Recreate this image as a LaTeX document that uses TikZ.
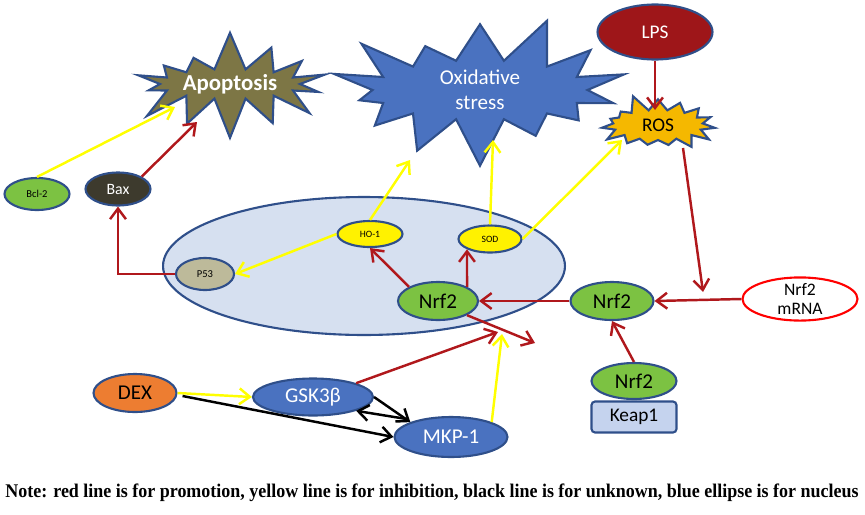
\documentclass[tikz,border=0pt]{standalone}
\usepackage{fontspec}
\setmainfont{Carlito}
\newfontfamily\notefont[FakeStretch=0.93]{Liberation Serif}
\usetikzlibrary{calc,arrows.meta,shapes.geometric,shapes.symbols}
\definecolor{ovalline}{HTML}{2F4F8A}
\definecolor{promo}{HTML}{B0181C}
\definecolor{inhib}{HTML}{FFFF00}
\definecolor{leafgreen}{HTML}{7CC242}
\definecolor{nucfill}{HTML}{D6E0F0}
\definecolor{stressblue}{HTML}{4A72C0}
\definecolor{apopolive}{HTML}{7D7645}
\definecolor{rosgold}{HTML}{F5B800}
\definecolor{dexorange}{HTML}{ED7D31}
\definecolor{keapblue}{HTML}{C5D3EE}
\tikzset{
  oval/.style={ellipse, draw=ovalline, line width=1.2pt, inner sep=0pt},
  burst/.style={starburst, draw=ovalline, line width=1.2pt, inner sep=0pt},
  red arrow/.style={draw=promo, line width=1.4pt, -{Straight Barb[length=6pt,width=9pt]}},
  yellow arrow/.style={draw=inhib, line width=1.4pt, -{Straight Barb[length=6pt,width=9pt]}},
  black arrow/.style={draw=black, line width=1.4pt, -{Straight Barb[length=6pt,width=9pt]}}
}

\begin{document}
\begin{tikzpicture}[x=0.02cm, y=-0.02cm]
	%%%%% START %%%%%
	\useasboundingbox (0,0) rectangle (865,514);
	
	\node[oval, fill=nucfill, minimum width=8.04cm, minimum height=2.76cm] (nucleus) at (364,266) {};
	
	\node[burst, fill=apopolive, starburst points=14, starburst point height=0.8cm, random starburst=7,
		minimum width=4.4cm, minimum height=2.2cm, text=white, font=\bfseries\fontsize{13}{14}\selectfont] (apop) at (230,84) {Apoptosis};
	\node[burst, fill=stressblue, starburst points=14, starburst point height=1.0cm, random starburst=21,
		minimum width=6.3cm, minimum height=3.2cm, text=white, align=center, font=\fontsize{12}{14}\selectfont] (oxid) at (480,90) {Oxidative\\stress};
	\node[burst, fill=rosgold, starburst points=15, starburst point height=0.35cm, random starburst=5,
		minimum width=2.5cm, minimum height=1.3cm, font=\fontsize{11}{12}\selectfont] (ros) at (658,125) {ROS};
	
	\node[oval, fill=promo!90!black, minimum width=2.3cm, minimum height=1.1cm, text=white, font=\fontsize{11}{12}\selectfont] (lps) at (655,32) {LPS};
	\node[oval, fill=leafgreen, minimum width=1.3cm, minimum height=0.64cm, font=\fontsize{6}{7}\selectfont] (bcl) at (37,194) {Bcl-2};
	\node[oval, fill=black!75!olive, minimum width=1.3cm, minimum height=0.66cm, text=white, font=\fontsize{9}{10}\selectfont] (bax) at (118,189) {Bax};
	
	\node[oval, fill=yellow, minimum width=1.3cm, minimum height=0.52cm, font=\fontsize{5.5}{6}\selectfont] (ho) at (370,234) {HO-1};
	\node[oval, fill=yellow, minimum width=1.26cm, minimum height=0.54cm, font=\fontsize{5.5}{6}\selectfont] (sod) at (490,239) {SOD};
	\node[oval, fill=olive!30!gray!60, minimum width=1.16cm, minimum height=0.64cm, font=\fontsize{6}{7}\selectfont] (p53) at (205,274) {P53};
	\node[oval, fill=leafgreen, minimum width=1.6cm, minimum height=0.76cm, font=\fontsize{12}{13}\selectfont] (nrfin) at (438,301) {Nrf2};
	\node[oval, fill=leafgreen, minimum width=1.66cm, minimum height=0.76cm, font=\fontsize{12}{13}\selectfont] (nrfmid) at (612,301) {Nrf2};
	\node[ellipse, draw=red, line width=1.2pt, fill=white, minimum width=2.3cm, minimum height=0.84cm, inner sep=0pt, align=center,
		font=\fontsize{10}{10.5}\selectfont] (mrna) at (800,299) {Nrf2\\mRNA};
	\node[oval, fill=leafgreen, minimum width=1.7cm, minimum height=0.72cm, font=\fontsize{12}{13}\selectfont] (nrfbot) at (634,381) {Nrf2};
	\node[draw=ovalline, line width=1.2pt, rounded corners=2pt, fill=keapblue, minimum width=1.7cm, minimum height=0.62cm,
		font=\fontsize{11}{12}\selectfont] (keap) at (634,417) {Keap1};
	
	\node[oval, fill=dexorange, minimum width=1.66cm, minimum height=0.76cm, font=\fontsize{12}{13}\selectfont] (dex) at (135,393) {DEX};
	\node[oval, fill=stressblue, minimum width=2.4cm, minimum height=0.74cm, text=white, font=\fontsize{12}{13}\selectfont] (gsk) at (313,397) {GSK3β};
	\node[oval, fill=stressblue, minimum width=2.26cm, minimum height=0.8cm, text=white, font=\fontsize{12}{13}\selectfont] (mkp) at (451,437) {MKP-1};
	
	\coordinate (join) at (703,292);
	\coordinate (tipA) at (498,332);
	\coordinate (tipB) at (502,334);
	\coordinate (tipC) at (535,343);
	
	% apoptosis
	\draw[yellow arrow] (bcl.north) -- ($(apop)+(-55,23)$);
	\draw[red arrow] (bax.north east) -- ($(apop)+(-33,38)$);
	\draw[red arrow] (p53.west) -| (bax.south);
	
	% oxidative stress and ROS
	\draw[yellow arrow] (ho.west) -- (p53.east);
	\draw[yellow arrow] (ho.north) -- ($(oxid)+(-70,70)$);
	\draw[yellow arrow] (sod.north) -- ($(oxid)+(13,50)$);
	\draw[yellow arrow] (sod.east) -- ($(ros)+(-36,15)$);
	\draw[red arrow] (lps.south) -- ($(ros)+(-3,-15)$);
	\draw[red arrow] ($(ros)+(25,23)$) -- (join);
	
	% Nrf2
	\draw[red arrow] (mrna.west) -- (nrfmid.east);
	\draw[red arrow] (nrfmid.west) -- (nrfin.east);
	\draw[red arrow] (nrfbot.north) -- (nrfmid.south);
	\draw[red arrow] (nrfin.north west) -- (ho.south);
	\draw[red arrow] (nrfin.north east) -- (sod.south west);
	\draw[red arrow] (nrfin.south east) -- (tipC);
	
	% DEX
	\draw[red arrow] (gsk.north east) -- (tipA);
	\draw[yellow arrow] (mkp.north east) -- (tipB);
	\draw[yellow arrow] (dex.east) -- (gsk.west);
	\draw[black arrow] ($(dex.east)+(5,3)$) -- (mkp.west);
	\draw[black arrow] (gsk.east) -- (mkp.north west);
	\draw[black arrow] ($(mkp.north west)+(-3,-3)$) -- (gsk.south east);
	
	\node[font=\notefont\bfseries\fontsize{11}{12}\selectfont] (note) at (432,493)
		{Note: red line is for promotion, yellow line is for inhibition, black line is for unknown, blue ellipse is for nucleus};
	%%%%% END %%%%%
\end{tikzpicture}
\end{document}
